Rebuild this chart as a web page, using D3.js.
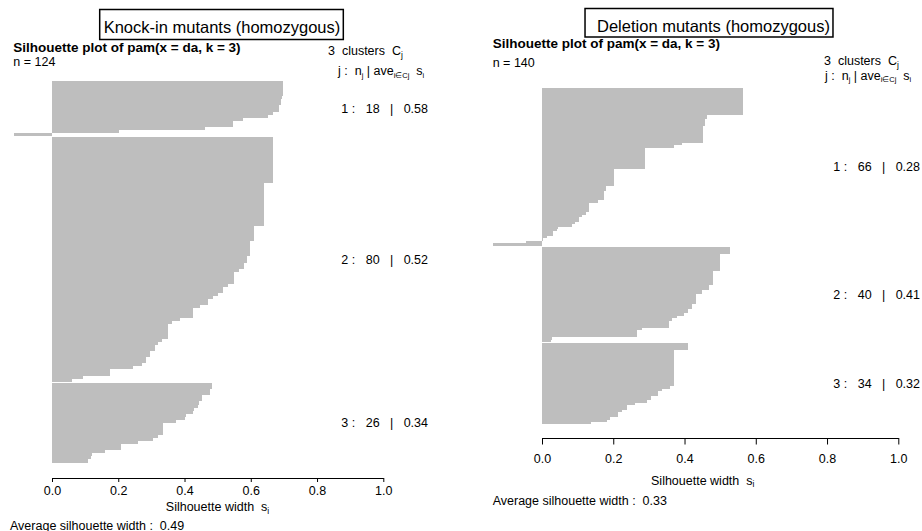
<!DOCTYPE html>
<html><head><meta charset="utf-8">
<script src="https://cdn.jsdelivr.net/npm/d3@7"></script>
<style>
body{margin:0;background:#fff}
svg{display:block}
text{font-family:"Liberation Sans",Arial,Helvetica,sans-serif;fill:#000;white-space:pre}
</style>
</head><body><svg id="chart" width="922" height="531"></svg>
<script>
// ---------------- DATA ----------------
const xTicks = [0, 0.2, 0.4, 0.6, 0.8, 1.0];

// Knock-in mutants (homozygous): silhouette widths per cluster, sorted as plotted
const knockinTitle = "Knock-in mutants (homozygous)";
const knockinN = 124;
const knockinSizes = [18, 80, 26];
const knockinAvgLabels = ["0.58", "0.52", "0.34"];
const knockinOverall = "0.49";
const knockinC1 = [0.698,0.698,0.698,0.698,0.698,0.695,0.691,0.691,0.686,0.686,0.668,0.653,0.576,0.547,0.547,0.462,0.202,-0.115];
const knockinC2 = [0.666,0.666,0.666,0.666,0.666,0.666,0.666,0.666,0.666,0.666,0.666,0.666,0.666,0.666,0.666,
  0.640,0.640,0.640,0.640,0.640,0.640,0.640,0.640,0.640,0.640,0.640,0.640,0.640,0.640,
  0.610,0.610,0.610,0.610,0.610,
  0.598,0.598,0.598,0.598,0.598,
  0.588,0.588,0.580,0.580,0.565,
  0.550,0.550,0.550,0.550,
  0.530,0.517,0.517,0.502,0.487,0.470,0.470,0.447,
  0.427,0.427,0.427,0.386,0.361,
  0.349,0.349,0.349,0.349,0.349,
  0.333,0.321,0.311,0.311,0.296,0.296,0.283,0.283,0.271,0.244,0.175,0.175,0.093,0.059];
const knockinC3 = [0.482,0.482,0.477,0.477,0.452,0.452,0.445,0.440,0.430,0.427,0.404,0.401,0.373,0.336,0.336,0.336,0.336,0.321,0.305,0.259,0.208,0.207,0.160,0.120,0.118,0.108];

// Deletion mutants (homozygous)
const deletionTitle = "Deletion mutants (homozygous)";
const deletionN = 140;
const deletionSizes = [66, 40, 34];
const deletionAvgLabels = ["0.28", "0.41", "0.32"];
const deletionOverall = "0.33";
const deletionC1 = [0.565,0.563,0.563,0.563,0.563,0.563,0.563,0.563,0.563,0.563,0.563,
  0.462,0.462,0.458,0.458,0.458,
  0.451,0.451,0.451,0.451,0.451,0.451,0.451,
  0.392,0.370,
  0.288,0.288,0.288,0.288,0.288,0.288,0.288,0.288,0.288,
  0.202,0.202,0.202,0.202,0.202,0.202,0.202,
  0.180,0.180,0.174,0.174,0.174,0.174,0.156,
  0.132,0.132,0.132,0.132,0.123,0.113,0.104,0.104,0.093,0.083,
  0.044,0.041,0.032,0.030,0.013,0.004,-0.045,-0.138];
const deletionC2 = [0.528,0.528,0.528,
  0.500,0.500,0.500,0.500,0.500,0.500,0.500,
  0.479,0.479,0.479,0.479,0.479,0.479,
  0.469,0.469,0.448,0.448,
  0.432,0.432,0.432,0.432,0.421,0.421,0.411,0.411,
  0.399,0.378,0.364,0.356,0.356,0.356,
  0.281,0.266,0.266,0.266,0.029,0.025];
const deletionC3 = [0.409,0.409,0.409,
  0.371,0.371,0.371,0.371,0.371,0.371,0.371,0.371,0.371,0.371,0.371,0.371,0.371,0.371,0.371,
  0.359,0.336,0.325,0.325,0.305,0.305,0.294,0.261,0.238,0.238,0.224,0.212,0.212,0.191,0.182,0.137];

// ---------------- DRAW ----------------
const svg = d3.select("#chart");
const FS = 12.5;

function richText(g, x, y, parts, opts = {}) {
  const t = g.append("text").attr("x", x).attr("y", y)
    .attr("font-size", opts.size || FS)
    .attr("text-anchor", opts.anchor || "start");
  let shifted = false;
  parts.forEach(p => {
    const sub = Array.isArray(p);
    const txt = sub ? p[0] : p;
    const ts = t.append("tspan").text(txt);
    if (sub) {
      ts.attr("font-size", (opts.size || FS) * (opts.subScale || 0.68));
      if (!shifted) { ts.attr("dy", 2.5); shifted = true; }
    } else if (shifted) {
      ts.attr("dy", -2.5); shifted = false;
    }
  });
  return t;
}

function panel(cfg) {
  const g = svg.append("g");
  let pos = 0;
  const bars = [], mids = [];
  cfg.clusters.forEach((vals, ci) => {
    if (ci > 0) pos += 0.5;
    const start = pos;
    vals.forEach(v => { bars.push({ v, pos }); pos += 1; });
    mids.push((start + pos) / 2);
  });
  const x = d3.scaleLinear().domain([0, 1]).range(cfg.xRange);
  const y = d3.scaleLinear().domain([0, pos]).range(cfg.yRange);

  g.append("g").selectAll("rect").data(bars).join("rect")
    .attr("x", d => x(Math.min(0, d.v)))
    .attr("width", d => Math.abs(x(d.v) - x(0)))
    .attr("y", d => y(d.pos))
    .attr("height", d => y(d.pos + 1) - y(d.pos))
    .attr("fill", "#bebebe")
    .attr("shape-rendering", "crispEdges");

  const ax = g.append("g").attr("transform", `translate(0,${cfg.axisY})`)
    .call(d3.axisBottom(x).tickValues(xTicks).tickFormat(d3.format(".1f"))
      .tickSize(cfg.tickLen).tickSizeOuter(0).tickPadding(cfg.tickPad));
  ax.attr("font-size", null).attr("font-family", null);
  ax.selectAll("path,line").attr("stroke", "#000");
  ax.selectAll("text").attr("fill", "#000").style("font-size", FS + "px");

  // boxed title
  const tt = g.append("text").attr("x", cfg.boxCx).attr("y", cfg.boxBase)
    .attr("text-anchor", "middle").style("font-size", "16.5px").text(cfg.title);
  const bb = tt.node().getBBox();
  g.append("rect").attr("x", bb.x - cfg.boxPadL).attr("y", cfg.boxTop)
    .attr("width", bb.width + cfg.boxPadL + cfg.boxPadR).attr("height", cfg.boxH)
    .attr("fill", "none").attr("stroke", "#000").attr("stroke-width", 1.5);

  g.append("text").attr("x", cfg.mainX).attr("y", cfg.mainY)
    .style("font-size", "13.5px").attr("font-weight", "bold")
    .text("Silhouette plot of pam(x = da, k = 3)");
  g.append("text").attr("x", cfg.mainX).attr("y", cfg.nY).attr("font-size", FS)
    .text("n = " + cfg.n);
  richText(g, cfg.kX, cfg.kY, ["3  clusters  C", ["j"]]);
  richText(g, cfg.jX, cfg.jY, ["j :  n", ["j"], " | ave", ["i\u2208Cj"], "  s", ["i"]], { subScale: 0.6 });

  cfg.sizes.forEach((nj, j) => {
    g.append("text").attr("x", cfg.labEnd).attr("y", y(mids[j])).attr("dy", "0.35em")
      .attr("text-anchor", "end").attr("font-size", FS)
      .text(`${j + 1} :   ${nj}   |   ${cfg.avgs[j]}`);
  });

  richText(g, cfg.xlabX, cfg.xlabY, ["Silhouette width  s", ["i"]], { anchor: "middle" });
  g.append("text").attr("x", cfg.avgX).attr("y", cfg.avgY).attr("font-size", FS)
    .text("Average silhouette width :  " + cfg.overall);
}

panel({
  clusters: [knockinC1, knockinC2, knockinC3], sizes: knockinSizes, avgs: knockinAvgLabels,
  overall: knockinOverall, n: knockinN, title: knockinTitle,
  xRange: [52, 383.3], yRange: [81, 462.5], axisY: 478, tickLen: 4, tickPad: 4,
  boxCx: 222, boxBase: 33, boxTop: 9.5, boxH: 30, boxPadL: 4, boxPadR: 3,
  mainX: 13.3, mainY: 52, nY: 66, kX: 328, kY: 55, jX: 338, jY: 75, labEnd: 428,
  xlabX: 217.5, xlabY: 511, avgX: 10, avgY: 529.5
});
panel({
  clusters: [deletionC1, deletionC2, deletionC3], sizes: deletionSizes, avgs: deletionAvgLabels,
  overall: deletionOverall, n: deletionN, title: deletionTitle,
  xRange: [542, 898.3], yRange: [88.3, 424.3], axisY: 438, tickLen: 6.5, tickPad: 9.8,
  boxCx: 713.5, boxBase: 31.5, boxTop: 8.5, boxH: 28.5, boxPadL: 12, boxPadR: 3,
  mainX: 492.7, mainY: 48, nY: 66.5, kX: 824, kY: 65, jX: 825, jY: 79.5, labEnd: 920,
  xlabX: 702.7, xlabY: 484.5, avgX: 492.7, avgY: 505
});
</script>
</body></html>
